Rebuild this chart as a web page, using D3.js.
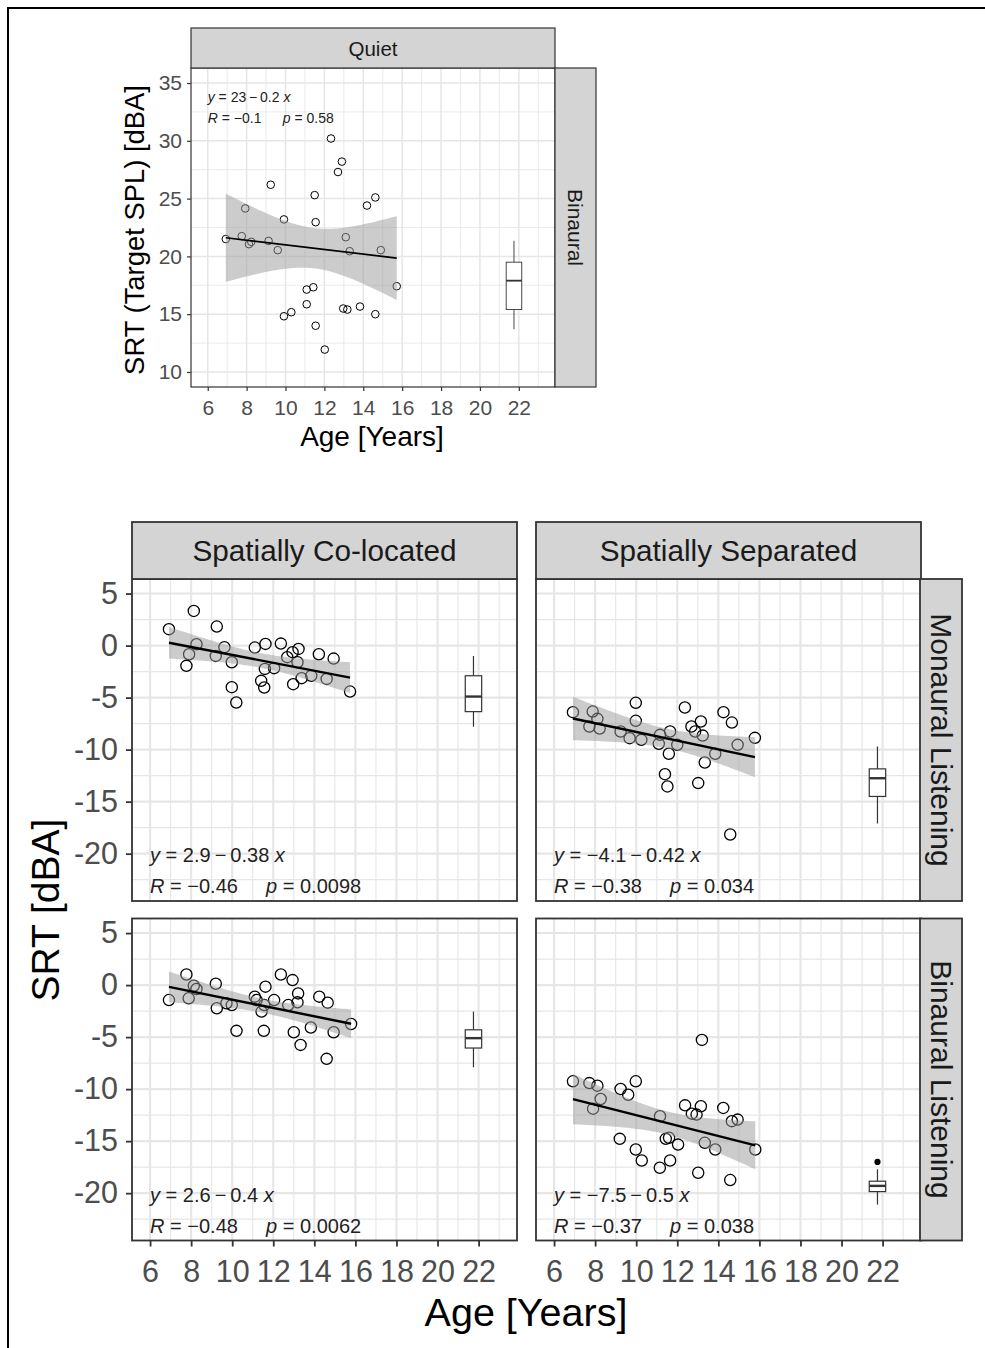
<!DOCTYPE html>
<html>
<head>
<meta charset="utf-8">
<script src="https://cdn.jsdelivr.net/npm/d3@7"></script>
<style>
  body { margin: 0; background: #fff; }
  svg text { font-family: "Liberation Sans", Arial, sans-serif; }
</style>
</head>
<body>
<svg id="chart" width="985" height="1348"></svg>
<script>
// ---- axis ticks ----
const ageTicks = [6, 8, 10, 12, 14, 16, 18, 20, 22];
const quietTicks = [10, 15, 20, 25, 30, 35];
const srtTicks = [5, 0, -5, -10, -15, -20];

// ---- children: age [years] and SRT [dBA] per condition ----
// Quiet, binaural (target SPL)
const quietAge = [6.93, 7.75, 7.93, 8.12, 8.24, 9.13, 9.24, 9.6, 9.92, 9.92, 10.3, 11.09, 11.09, 11.43, 11.5, 11.55, 11.55, 12.02, 12.34, 12.7, 12.9, 12.97, 13.1, 13.18, 13.3, 13.83, 14.19, 14.62, 14.62, 14.9, 15.72];
const quietSRT = [21.5, 21.75, 24.15, 21.06, 21.26, 21.34, 26.2, 20.54, 23.2, 14.82, 15.17, 17.13, 15.86, 17.33, 25.3, 22.96, 14.0, 11.94, 30.2, 27.3, 28.2, 15.49, 21.66, 15.4, 20.45, 15.66, 24.4, 25.1, 15.0, 20.54, 17.42];

// Spatially co-located, monaural listening
const coMonAge = [6.92, 8.13, 9.25, 7.77, 7.9, 8.26, 9.2, 9.62, 9.98, 9.98, 10.2, 11.1, 11.62, 11.59, 12.04, 11.41, 11.56, 12.37, 12.68, 12.94, 13.23, 13.18, 12.97, 13.38, 13.85, 14.22, 14.94, 14.6, 15.74];
const coMonSRT = [1.58, 3.33, 1.83, -1.95, -0.83, 0.13, -0.99, -0.15, -1.6, -4.0, -5.47, -0.19, 0.16, -2.24, -2.17, -3.39, -4.03, 0.19, -1.11, -0.63, -0.32, -1.6, -3.71, -3.13, -2.91, -0.83, -1.25, -3.2, -4.42];

// Spatially separated, monaural listening
const sepMonAge = [6.92, 7.88, 8.11, 7.72, 8.22, 9.98, 9.98, 9.24, 9.68, 10.25, 11.16, 11.65, 12.37, 12.69, 13.15, 12.87, 13.24, 14.25, 14.66, 15.78, 14.94, 11.1, 12.0, 11.59, 13.85, 13.34, 11.4, 11.52, 13.02, 14.58];
const sepMonSRT = [-6.4, -6.34, -7.04, -7.78, -7.97, -5.5, -7.23, -8.26, -8.9, -9.06, -8.58, -8.26, -5.95, -7.78, -7.3, -8.26, -8.65, -6.4, -7.4, -8.87, -9.54, -9.44, -9.54, -10.4, -10.4, -11.24, -12.36, -13.54, -13.22, -18.16];

// Spatially co-located, binaural listening
const coBinAge = [6.92, 7.77, 7.88, 8.13, 8.26, 9.2, 9.25, 9.72, 9.98, 10.21, 11.1, 11.19, 11.62, 11.56, 11.43, 12.04, 11.54, 12.37, 12.94, 13.21, 12.73, 13.18, 13.0, 13.33, 13.83, 14.24, 14.65, 14.94, 14.6, 15.79];
const coBinSRT = [-1.44, 1.02, -1.27, -0.06, -0.38, 0.13, -2.23, -1.75, -1.92, -4.4, -1.11, -1.44, -0.15, -1.92, -2.55, -1.44, -4.4, 1.02, 0.48, -0.8, -1.92, -1.66, -4.53, -5.75, -4.08, -1.11, -1.69, -4.53, -7.09, -3.74];

// Spatially separated, binaural listening
const sepBinAge = [6.92, 7.72, 8.11, 8.27, 7.9, 9.24, 9.61, 9.98, 9.2, 9.98, 10.27, 11.16, 11.44, 11.6, 12.04, 11.15, 11.65, 12.38, 13.15, 12.71, 12.94, 13.34, 13.85, 13.02, 14.24, 14.66, 14.94, 15.8, 14.58, 13.2];
const sepBinSRT = [-9.25, -9.42, -9.67, -10.95, -11.88, -9.99, -10.54, -9.25, -14.78, -15.8, -16.86, -12.6, -14.78, -14.68, -15.33, -17.56, -16.86, -11.56, -11.65, -12.36, -12.45, -15.16, -15.8, -18.04, -11.81, -13.08, -12.93, -15.8, -18.74, -5.27];

// ---- regression summaries (order: quiet, coMon, sepMon, coBin, sepBin) ----
const fitIntercept = [23, 2.9, -4.1, 2.6, -7.5];
const fitSlope = [-0.2, -0.38, -0.42, -0.4, -0.5];
const fitR = ["−0.1", "−0.46", "−0.38", "−0.48", "−0.37"];
const fitP = ["0.58", "0.0098", "0.034", "0.0062", "0.038"];

// ---- adult reference group, shown as a box plot (same order) ----
const adultAge = 21.75;
const adultLow = [13.7, -7.8, -17.1, -7.9, -21.1];
const adultQ1 = [15.4, -6.35, -14.5, -6.05, -19.85];
const adultMedian = [17.9, -4.9, -12.75, -5.1, -19.3];
const adultQ3 = [19.5, -2.9, -11.85, -4.3, -18.85];
const adultHigh = [21.35, -1.0, -9.7, -2.55, -17.7];
const adultOutliers = [[], [], [], [], [-17.0]];

// ---- strip labels ----
const colLabels = ["Spatially Co-located", "Spatially Separated"];
const rowLabels = ["Monaural Listening", "Binaural Listening"];

const svg = d3.select("#chart");
const FONT = '"Liberation Sans", Arial, sans-serif';

// outer frame
svg.append("rect")
  .attr("x", 8).attr("y", 8).attr("width", 1000).attr("height", 1360)
  .attr("fill", "none").attr("stroke", "#000").attr("stroke-width", 2);

// two-sided t quantile (97.5%) via Cornish-Fisher expansion
function tCrit(df) {
  const z = 1.959964;
  return z + (z ** 3 + z) / (4 * df) + (5 * z ** 5 + 16 * z ** 3 + 3 * z) / (96 * df * df);
}

function drawPanel(o) {
  const x = d3.scaleLinear().domain(o.xDomain).range([o.left, o.left + o.width]);
  const y = d3.scaleLinear().domain(o.yDomain).range([o.top + o.height, o.top]);
  const g = svg.append("g");

  g.append("rect").attr("x", o.left).attr("y", o.top)
    .attr("width", o.width).attr("height", o.height).attr("fill", "#fff");

  // grid: minor then major
  const xMinor = d3.range(5, 24, 2).filter(v => v > o.xDomain[0] && v < o.xDomain[1]);
  const yStep = 5;
  const yMinor = d3.range(Math.ceil(o.yDomain[0] / yStep) * yStep - 2.5, o.yDomain[1], yStep)
    .filter(v => v > o.yDomain[0] && v < o.yDomain[1]);
  const gridCol = "#e6e6e6";
  g.selectAll(".xminor").data(xMinor).join("line")
    .attr("x1", d => x(d)).attr("x2", d => x(d)).attr("y1", o.top).attr("y2", o.top + o.height)
    .attr("stroke", gridCol).attr("stroke-width", o.minorW);
  g.selectAll(".yminor").data(yMinor).join("line")
    .attr("y1", d => y(d)).attr("y2", d => y(d)).attr("x1", o.left).attr("x2", o.left + o.width)
    .attr("stroke", gridCol).attr("stroke-width", o.minorW);
  g.selectAll(".xmajor").data(ageTicks).join("line")
    .attr("x1", d => x(d)).attr("x2", d => x(d)).attr("y1", o.top).attr("y2", o.top + o.height)
    .attr("stroke", gridCol).attr("stroke-width", o.majorW);
  g.selectAll(".ymajor").data(o.yTicks).join("line")
    .attr("y1", d => y(d)).attr("y2", d => y(d)).attr("x1", o.left).attr("x2", o.left + o.width)
    .attr("stroke", gridCol).attr("stroke-width", o.majorW);

  // scatter
  const pts = o.ages.map((a, i) => [a, o.srt[i]]);
  g.selectAll(".pt").data(pts).join("circle")
    .attr("cx", d => x(d[0])).attr("cy", d => y(d[1])).attr("r", o.r)
    .attr("fill", "none").attr("stroke", "#000").attr("stroke-width", o.ptW);

  // regression line with 95% confidence band
  const k = o.k;
  const a = fitIntercept[k], b = fitSlope[k];
  const n = pts.length;
  const xbar = d3.mean(o.ages);
  const sxx = d3.sum(o.ages, v => (v - xbar) ** 2);
  const s = Math.sqrt(d3.sum(pts, d => (d[1] - (a + b * d[0])) ** 2) / (n - 2));
  const t = tCrit(n - 2);
  const [xmin, xmax] = d3.extent(o.ages);
  const grid = d3.range(0, 81).map(i => xmin + (xmax - xmin) * i / 80);
  const band = grid.map(v => {
    const se = s * Math.sqrt(1 / n + (v - xbar) ** 2 / sxx);
    const f = a + b * v;
    return [v, f - t * se, f + t * se];
  });
  g.append("path").datum(band)
    .attr("d", d3.area().x(d => x(d[0])).y0(d => y(d[1])).y1(d => y(d[2])))
    .attr("fill", "#999").attr("fill-opacity", 0.5);
  g.append("line")
    .attr("x1", x(xmin)).attr("y1", y(a + b * xmin))
    .attr("x2", x(xmax)).attr("y2", y(a + b * xmax))
    .attr("stroke", "#000").attr("stroke-width", o.lineW);

  // adult box plot
  const bw = 0.4;
  const bx = x(adultAge);
  const bs = "#333";
  g.append("line").attr("x1", bx).attr("x2", bx).attr("y1", y(adultHigh[k])).attr("y2", y(adultQ3[k]))
    .attr("stroke", bs).attr("stroke-width", o.boxW);
  g.append("line").attr("x1", bx).attr("x2", bx).attr("y1", y(adultQ1[k])).attr("y2", y(adultLow[k]))
    .attr("stroke", bs).attr("stroke-width", o.boxW);
  g.append("rect").attr("x", x(adultAge - bw)).attr("width", x(adultAge + bw) - x(adultAge - bw))
    .attr("y", y(adultQ3[k])).attr("height", y(adultQ1[k]) - y(adultQ3[k]))
    .attr("fill", "#fff").attr("stroke", bs).attr("stroke-width", o.boxW);
  g.append("line").attr("x1", x(adultAge - bw)).attr("x2", x(adultAge + bw))
    .attr("y1", y(adultMedian[k])).attr("y2", y(adultMedian[k]))
    .attr("stroke", bs).attr("stroke-width", o.boxW * 2);
  g.selectAll(".out").data(adultOutliers[k]).join("circle")
    .attr("cx", bx).attr("cy", d => y(d)).attr("r", o.r * 0.55).attr("fill", "#000");

  // regression annotation
  const fmt = v => (v < 0 ? "−" : "") + Math.abs(v);
  const ax = x(6);
  const eq = g.append("text").attr("x", ax).attr("y", o.eqY).attr("font-size", o.annSize).attr("fill", "#222");
  eq.append("tspan").attr("font-style", "italic").text("y");
  eq.append("tspan").text(" = " + fmt(a) + "\u2009−\u2009" + Math.abs(b) + " ");
  eq.append("tspan").attr("font-style", "italic").text("x");
  const rt = g.append("text").attr("x", ax).attr("y", o.rY).attr("font-size", o.annSize).attr("fill", "#222");
  rt.append("tspan").attr("font-style", "italic").text("R");
  rt.append("tspan").text(" = " + fitR[k]);
  const pt = g.append("text").attr("x", ax + o.pOff).attr("y", o.rY).attr("font-size", o.annSize).attr("fill", "#222");
  pt.append("tspan").attr("font-style", "italic").text("p");
  pt.append("tspan").text(" = " + fitP[k]);

  // panel border
  g.append("rect").attr("x", o.left).attr("y", o.top)
    .attr("width", o.width).attr("height", o.height)
    .attr("fill", "none").attr("stroke", "#333").attr("stroke-width", o.borderW);

  // axes
  if (o.showY) {
    const ay = g.append("g").attr("transform", `translate(${o.left},0)`)
      .call(d3.axisLeft(y).tickValues(o.yTicks).tickSize(o.tickLen).tickPadding(o.yPad).tickFormat(d => String(d)));
    ay.select(".domain").remove();
    ay.selectAll(".tick line").attr("stroke", "#333").attr("stroke-width", o.borderW);
    ay.selectAll(".tick text").attr("fill", "#4d4d4d").attr("font-size", o.tickSize)
      .style("font-family", FONT);
  }
  if (o.showX) {
    const axx = g.append("g").attr("transform", `translate(0,${o.top + o.height})`)
      .call(d3.axisBottom(x).tickValues(ageTicks).tickSize(o.tickLen).tickPadding(o.xPad).tickFormat(d => String(d)));
    axx.select(".domain").remove();
    axx.selectAll(".tick line").attr("stroke", "#333").attr("stroke-width", o.borderW);
    axx.selectAll(".tick text").attr("fill", "#4d4d4d").attr("font-size", o.tickSize)
      .style("font-family", FONT);
  }
  return { x, y };
}

function stripTop(left, top, width, height, label, size, bw) {
  svg.append("rect").attr("x", left).attr("y", top).attr("width", width).attr("height", height)
    .attr("fill", "#d4d4d4").attr("stroke", "#333").attr("stroke-width", bw);
  svg.append("text").attr("x", left + width / 2).attr("y", top + height / 2)
    .attr("text-anchor", "middle").attr("dominant-baseline", "central")
    .attr("font-size", size).attr("fill", "#1a1a1a").text(label);
}
function stripRight(left, top, width, height, label, size, bw) {
  svg.append("rect").attr("x", left).attr("y", top).attr("width", width).attr("height", height)
    .attr("fill", "#d4d4d4").attr("stroke", "#333").attr("stroke-width", bw);
  svg.append("text")
    .attr("transform", `translate(${left + width / 2},${top + height / 2}) rotate(90)`)
    .attr("text-anchor", "middle").attr("dominant-baseline", "central")
    .attr("font-size", size).attr("fill", "#1a1a1a").text(label);
}

// ---------- top figure: quiet ----------
drawPanel({
  left: 191, top: 68, width: 364, height: 319,
  xDomain: [5.14, 23.86], yDomain: [8.7, 36.3], yTicks: quietTicks,
  ages: quietAge, srt: quietSRT, k: 0,
  r: 3.8, ptW: 1, lineW: 1.7, boxW: 0.9, minorW: 0.8, majorW: 1.5, borderW: 1.2,
  annSize: 14, eqY: 102, rY: 123, pOff: 75,
  showX: true, showY: true, tickLen: 4, xPad: 9, yPad: 5, tickSize: 21
});
stripTop(191, 28, 364, 40, "Quiet", 20.5, 1.2);
stripRight(555, 68, 41, 319, "Binaural", 21, 1.2);
svg.append("text").attr("x", 372).attr("y", 446).attr("text-anchor", "middle")
  .attr("font-size", 28).attr("fill", "#000").text("Age [Years]");
svg.append("text").attr("transform", "translate(144,230) rotate(-90)").attr("text-anchor", "middle")
  .attr("font-size", 27.4).attr("fill", "#000").text("SRT (Target SPL) [dBA]");

// ---------- bottom figure: 2 x 2 facets ----------
const colLeft = [132, 536];
const rowTop = [579, 918.5];
const pw = 385, ph = 322;
const cells = [
  { r: 0, c: 0, ages: coMonAge, srt: coMonSRT, k: 1 },
  { r: 0, c: 1, ages: sepMonAge, srt: sepMonSRT, k: 2 },
  { r: 1, c: 0, ages: coBinAge, srt: coBinSRT, k: 3 },
  { r: 1, c: 1, ages: sepBinAge, srt: sepBinSRT, k: 4 }
];
cells.forEach(cell => {
  drawPanel({
    left: colLeft[cell.c], top: rowTop[cell.r], width: pw, height: ph,
    xDomain: [5.12, 23.87], yDomain: [-24.55, 6.4], yTicks: srtTicks,
    ages: cell.ages, srt: cell.srt, k: cell.k,
    r: 5.6, ptW: 1.3, lineW: 2.4, boxW: 1.2, minorW: 1.1, majorW: 2.1, borderW: 1.8,
    annSize: 20, eqY: rowTop[cell.r] + ph - 39, rY: rowTop[cell.r] + ph - 8, pOff: 116,
    showX: cell.r === 1, showY: cell.c === 0, tickLen: 6, xPad: 14, yPad: 8, tickSize: 30.5
  });
});
colLabels.forEach((lab, i) => stripTop(colLeft[i], 522, pw, 57, lab, 29.7, 1.8));
rowLabels.forEach((lab, i) => stripRight(920, rowTop[i], 42, ph, lab, 30, 1.8));
svg.append("text").attr("x", 526).attr("y", 1326).attr("text-anchor", "middle")
  .attr("font-size", 39.5).attr("fill", "#000").text("Age [Years]");
svg.append("text").attr("transform", "translate(59,910) rotate(-90)").attr("text-anchor", "middle")
  .attr("font-size", 39).attr("fill", "#000").text("SRT [dBA]");
</script>
</body>
</html>
